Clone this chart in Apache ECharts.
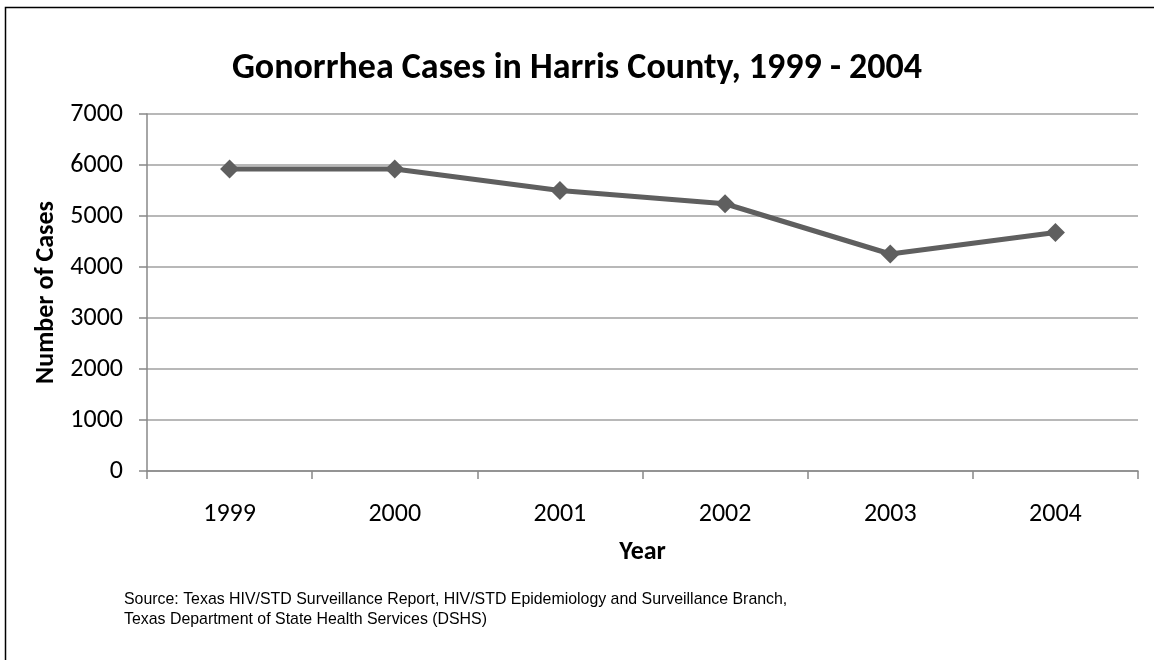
<!DOCTYPE html>
<html>
<head>
<meta charset="utf-8">
<script src="https://cdn.jsdelivr.net/npm/echarts@6/dist/echarts.min.js"></script>
<style>
html,body{margin:0;padding:0;background:#fff;}
#c{width:1154px;height:660px;}
</style>
</head>
<body>
<div id="c"></div>
<script>
const years = ['1999', '2000', '2001', '2002', '2003', '2004'];
const cases = [5920, 5920, 5500, 5240, 4255, 4675];
const titleText = 'Gonorrhea Cases in Harris County, 1999 - 2004';
const sourceLines = [
  'Source: Texas HIV/STD Surveillance Report, HIV/STD Epidemiology and Surveillance Branch,',
  'Texas Department of State Health Services (DSHS)'
];

const chart = echarts.init(document.getElementById('c'), null, {renderer: 'canvas'});
const calib = 'Carlito, Lato, "Open Sans", sans-serif';
chart.setOption({
  backgroundColor: '#fff',
  animation: false,
  title: {
    text: titleText,
    left: 'center',
    top: 46,
    textStyle: {fontFamily: calib, fontSize: 36, fontWeight: 'bold', color: '#000'}
  },
  graphic: [
    {type: 'rect', shape: {x: 5.5, y: 7.5, width: 1200, height: 700}, style: {fill: 'none', stroke: '#000', lineWidth: 1.5}, z: 100},
    {type: 'text', left: 124, top: 590, style: {text: sourceLines.join('\n'), font: '15.9px "Liberation Sans", Arial, sans-serif', lineHeight: 20, fill: '#000'}}
  ],
  grid: {left: 147, right: 16, top: 114, bottom: 189, containLabel: false},
  xAxis: {
    type: 'category',
    data: years,
    boundaryGap: true,
    name: 'Year',
    nameLocation: 'middle',
    nameGap: 68,
    nameTextStyle: {fontFamily: calib, fontSize: 26, fontWeight: 'bold', color: '#000'},
    axisLine: {lineStyle: {color: '#888', width: 1.5}},
    axisTick: {show: true, alignWithLabel: false, length: 8, lineStyle: {color: '#888', width: 1.5}},
    axisLabel: {fontFamily: calib, fontSize: 26, color: '#000', margin: 30}
  },
  yAxis: {
    type: 'value',
    min: 0,
    max: 7000,
    interval: 1000,
    name: 'Number of Cases',
    nameLocation: 'middle',
    nameRotate: 90,
    nameGap: 87,
    nameTextStyle: {fontFamily: calib, fontSize: 26, fontWeight: 'bold', color: '#000'},
    axisLine: {show: true, lineStyle: {color: '#888', width: 1.5}},
    axisTick: {show: true, length: 8, lineStyle: {color: '#888', width: 1.5}},
    axisLabel: {fontFamily: calib, fontSize: 26, color: '#000', margin: 24, formatter: function (v) { return String(v); }},
    splitLine: {show: true, lineStyle: {color: '#a0a0a0', width: 1.5}}
  },
  series: [{
    type: 'line',
    data: cases,
    symbol: 'diamond',
    symbolSize: 19,
    showSymbol: true,
    lineStyle: {color: '#5f5f5f', width: 5},
    itemStyle: {color: '#5f5f5f'}
  }]
});
</script>
</body>
</html>
